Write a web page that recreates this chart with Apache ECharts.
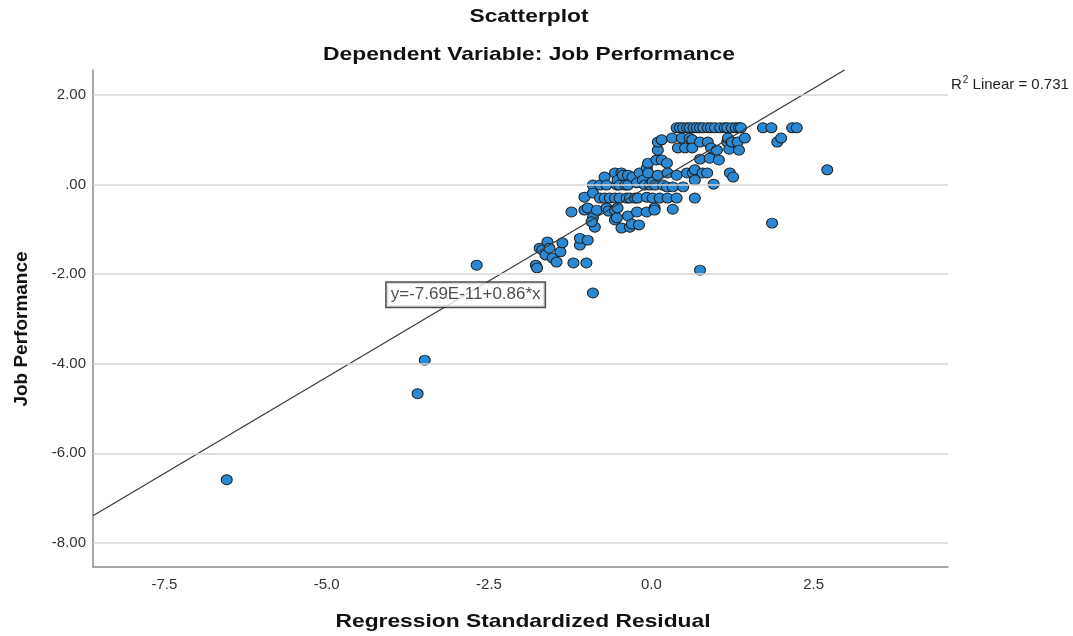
<!DOCTYPE html>
<html><head><meta charset="utf-8">
<script src="https://cdn.jsdelivr.net/npm/echarts@6/dist/echarts.min.js"></script>
<style>html,body{margin:0;padding:0;background:#fff}#c{width:1073px;height:636px}</style>
</head><body><div id="c"></div>
<script>
// ---- data ----
const residual = [
  -6.54,-3.60,-3.49,-2.69,-0.90,0.75,1.86,2.71,
  -1.78,-1.76,-1.72,-1.68,-1.63,-1.60,-1.57,-1.52,-1.46,-1.40,-1.37,-1.20,-1.10,-1.10,-1.00,-0.98,
  -1.23,-1.03,-1.03,-0.98,-0.90,-0.90,-0.90,-0.87,-0.92,-0.84,-0.79,-0.79,-0.72,-0.72,-0.69,-0.69,-0.66,-0.64,
  -0.56,-0.56,-0.56,-0.56,-0.53,-0.53,-0.52,-0.49,-0.49,-0.46,-0.46,-0.44,-0.40,-0.38,-0.36,-0.36,-0.36,
  -0.33,-0.33,-0.30,-0.29,-0.25,-0.22,-0.22,-0.21,-0.19,-0.18,-0.13,-0.10,-0.07,-0.07,-0.07,-0.05,-0.05,
  -0.02,0.02,0.02,0.05,0.06,0.08,0.10,0.10,0.10,0.13,0.16,0.16,0.18,0.24,0.24,0.25,0.25,0.32,0.33,0.33,
  0.39,0.39,0.41,0.47,0.49,0.52,0.55,0.59,0.63,0.63,0.64,0.67,0.67,0.67,0.75,0.75,0.79,0.86,0.87,0.90,
  0.92,0.96,1.01,1.04,1.17,1.18,1.20,1.21,1.26,1.24,1.33,1.35,1.44,1.94,2.00,-0.52,0.05,
  0.39,0.44,0.49,0.55,0.59,0.65,0.70,0.75,0.80,0.87,0.92,0.98,1.06,1.13,1.17,1.24,1.30,1.35,1.38,1.72,1.85,2.17,2.24
];
const performance = [
  -6.59,-4.67,-3.92,-1.80,-2.42,-1.91,-0.86,0.33,
  -1.80,-1.86,-1.42,-1.46,-1.57,-1.28,-1.42,-1.64,-1.73,-1.50,-1.30,-1.75,-1.35,-1.20,-1.75,-1.24,
  -0.61,-0.28,-0.57,-0.52,-0.01,-0.19,-0.74,-0.95,-0.83,-0.57,-0.01,-0.30,0.17,-0.30,-0.01,-0.52,-0.59,-0.30,
  0.26,-0.30,-0.57,-0.79,-0.01,-0.74,0.10,-0.30,-0.01,0.26,-0.97,0.21,-0.01,-0.30,0.21,-0.01,-0.70,
  -0.30,-0.95,-0.88,0.17,-0.30,0.04,-0.61,-0.30,-0.90,0.26,0.10,-0.01,0.37,-0.28,-0.61,0.48,0.26,
  -0.01,0.06,-0.30,-0.52,-0.01,0.55,0.21,0.77,0.95,-0.30,1.00,0.55,-0.01,0.48,-0.05,0.26,-0.30,1.04,-0.05,-0.55,
  0.21,-0.30,0.82,1.04,-0.05,0.82,0.26,1.04,1.00,0.82,0.26,0.33,0.10,-0.30,0.57,0.95,0.26,0.26,0.95,0.59,
  0.82,0.01,0.77,0.55,0.95,1.04,0.79,0.26,0.17,0.95,0.95,0.77,1.04,0.95,1.04,-0.52,-0.57,
  1.27,1.27,1.27,1.27,1.27,1.27,1.27,1.27,1.27,1.27,1.27,1.27,1.27,1.27,1.27,1.27,1.27,1.27,1.27,1.27,1.27,1.27,1.27
];
const xTicks = [-7.5, -5.0, -2.5, 0.0, 2.5];
const yTicks = [2, 0, -2, -4, -6, -8];
const fitIntercept = -7.69e-11;
const fitSlope = 0.86;
const rSquared = 0.731;
const chartTitle = 'Scatterplot';
const chartSubtitle = 'Dependent Variable: Job Performance';
const xTitle = 'Regression Standardized Residual';
const yTitle = 'Job Performance';
const eqText = 'y=-7.69E-11+0.86*x';

// ---- layout ----
const X_MIN = -8.6, X_MAX = 4.57, Y_MIN = -8.54, Y_MAX = 2.56;
const EQ_X = -2.86;
const FONT = '"Liberation Sans", Arial, sans-serif';
const SX = 1.2; // horizontal stretch of the reference's text

const points = residual.map((x, i) => [x, performance[i]]);
const fit = x => fitIntercept + fitSlope * x;
const xEnd = Math.min(X_MAX, (Y_MAX - fitIntercept) / fitSlope);
const fitLine = [[X_MIN, fit(X_MIN)], [xEnd, fit(xEnd)]];

const chart = echarts.init(document.getElementById('c'), null, {renderer: 'canvas'});
chart.setOption({
  animation: false,
  backgroundColor: '#ffffff',
  grid: {left: 93, right: 125, top: 70, bottom: 69, containLabel: false},
  xAxis: {
    type: 'value', min: X_MIN, max: X_MAX,
    axisLine: {show: true, onZero: false, lineStyle: {color: '#8a8a8a', width: 1.5}},
    axisTick: {show: false},
    splitLine: {show: false},
    axisLabel: {customValues: xTicks, formatter: v => v.toFixed(1), fontSize: 15, color: '#333', margin: 10, fontFamily: FONT}
  },
  yAxis: {
    type: 'value', min: Y_MIN, max: Y_MAX,
    axisLine: {show: true, onZero: false, lineStyle: {color: '#8a8a8a', width: 1.5}},
    axisTick: {show: false},
    splitLine: {show: false},
    axisLabel: {customValues: yTicks, formatter: v => v === 0 ? '.00' : v.toFixed(2), fontSize: 15, color: '#333', margin: 7, fontFamily: FONT}
  },
  graphic: [
    {type: 'text', x: 529, y: 17, scaleX: SX, style: {text: chartTitle, font: 'bold 19px ' + FONT, fill: '#111', textAlign: 'center', textVerticalAlign: 'middle'}},
    {type: 'text', x: 529, y: 55, scaleX: SX, style: {text: chartSubtitle, font: 'bold 19px ' + FONT, fill: '#111', textAlign: 'center', textVerticalAlign: 'middle'}},
    {type: 'text', x: 523, y: 622, scaleX: SX, style: {text: xTitle, font: 'bold 19px ' + FONT, fill: '#111', textAlign: 'center', textVerticalAlign: 'middle'}},
    {type: 'text', x: 22, y: 329, rotation: Math.PI / 2, style: {text: yTitle, font: 'bold 19px ' + FONT, fill: '#111', textAlign: 'center', textVerticalAlign: 'middle'}},
    {type: 'text', x: 951, y: 75, style: {
      text: '{a|R}{s|2}{a| Linear = ' + rSquared.toFixed(3) + '}',
      rich: {a: {fontSize: 15, fontFamily: FONT, fill: '#222', verticalAlign: 'bottom'}, s: {fontSize: 10, fontFamily: FONT, fill: '#222', verticalAlign: 'top', padding: [0, 0, 7, 1]}}
    }}
  ],
  series: [
    {
      type: 'line', data: [], silent: true, z: 1,
      markLine: {silent: true, symbol: 'none', label: {show: false},
        lineStyle: {color: '#d4d4d4', width: 1.5, type: 'solid'},
        data: yTicks.map(v => ({yAxis: v}))}
    },
    {
      type: 'scatter', data: points, z: 3, symbol: 'circle', symbolSize: [11, 10],
      itemStyle: {color: '#2b89d3', borderColor: '#1c1c1c', borderWidth: 1, opacity: 1}
    },
    {
      type: 'line', data: fitLine, z: 4, symbol: 'none', silent: true,
      lineStyle: {color: '#3a3a3a', width: 1.3}
    },
    {
      type: 'scatter', z: 5, symbolSize: 0, silent: true,
      data: [[EQ_X, fit(EQ_X)]],
      label: {show: true, position: 'inside', formatter: eqText, fontSize: 17, color: '#222', fontFamily: FONT,
        backgroundColor: '#fff', borderColor: '#222', borderWidth: 1.5, padding: [4, 4, 3, 4]}
    }
  ]
});
</script></body></html>
